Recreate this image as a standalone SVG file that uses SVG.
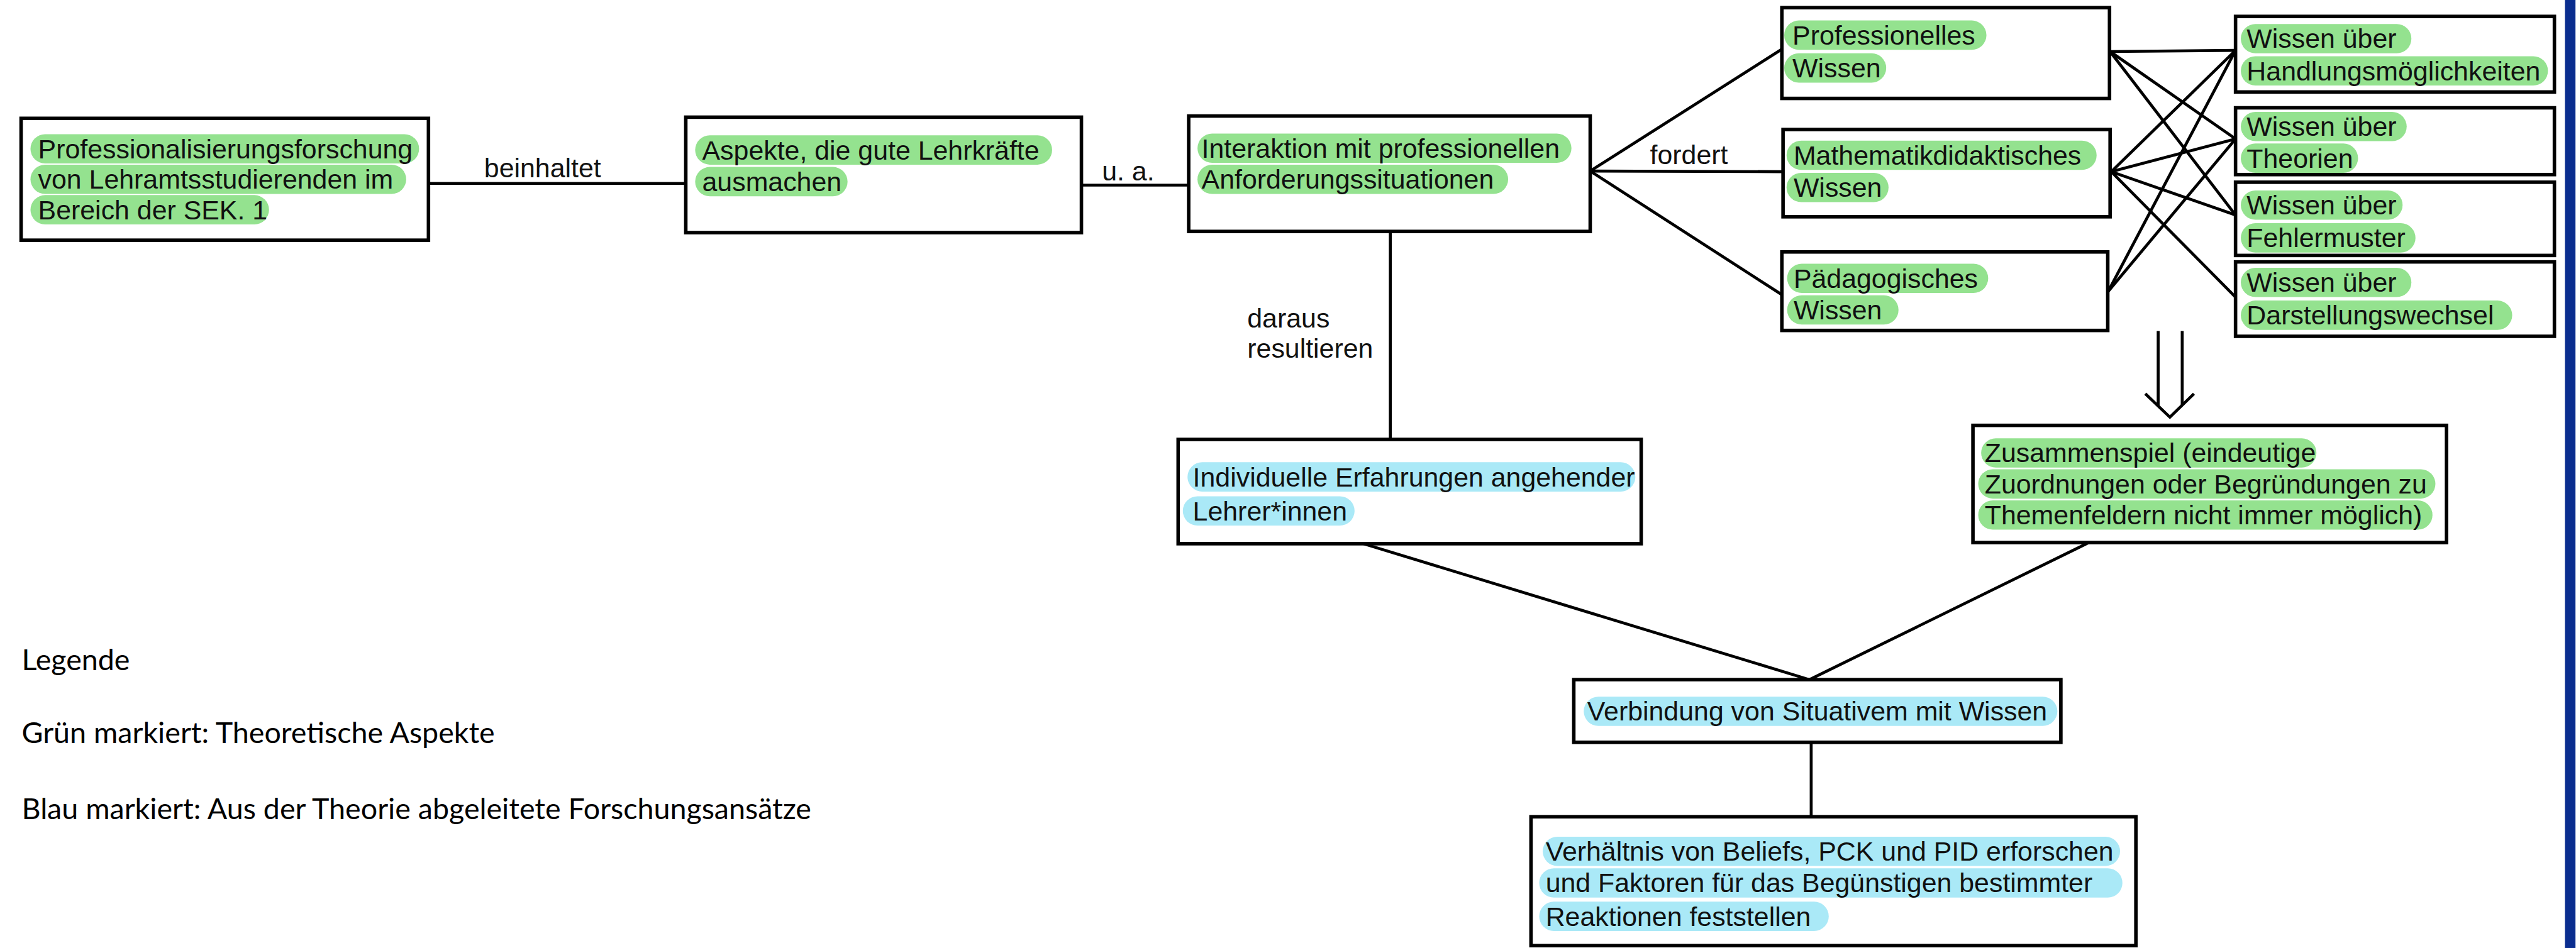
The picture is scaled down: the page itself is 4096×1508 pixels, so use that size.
<svg xmlns="http://www.w3.org/2000/svg" width="4096" height="1508" viewBox="0 0 4096 1508">
<style>
.box{fill:#fff;stroke:#000;stroke-width:6}
.t{font-family:"Liberation Sans",Arial,sans-serif;font-size:46px;fill:#111}
.g{fill:#94e28f}
.b{fill:#aae9f7}
.c{stroke:#000;stroke-width:5;fill:none}
.leg{font-family:Lato,"Liberation Sans",sans-serif;font-size:50px;fill:#000}
</style>
<rect width="4096" height="1508" fill="#fff"/>
<g transform="scale(0.932)">
<rect x="4376" y="0" width="18" height="1618" fill="#0a2d8f"/>
<g id="connectors">
<line class="c" x1="731" y1="313" x2="1170" y2="313"/>
<line class="c" x1="1845" y1="316" x2="2028" y2="316"/>
<line class="c" x1="2713" y1="292" x2="3040" y2="84"/>
<line class="c" x1="2713" y1="292" x2="3042" y2="293"/>
<line class="c" x1="2713" y1="292" x2="3040" y2="503"/>
<line class="c" x1="3600" y1="88" x2="3814" y2="86"/>
<line class="c" x1="3600" y1="88" x2="3814" y2="237"/>
<line class="c" x1="3600" y1="88" x2="3814" y2="367"/>
<line class="c" x1="3602" y1="293" x2="3814" y2="86"/>
<line class="c" x1="3602" y1="293" x2="3814" y2="237"/>
<line class="c" x1="3602" y1="293" x2="3814" y2="367"/>
<line class="c" x1="3602" y1="293" x2="3814" y2="507"/>
<line class="c" x1="3597" y1="497" x2="3814" y2="86"/>
<line class="c" x1="3597" y1="497" x2="3814" y2="237"/>
<line class="c" x1="2372" y1="395" x2="2372" y2="750"/>
<line class="c" x1="3682" y1="565" x2="3682" y2="693"/>
<line class="c" x1="3723" y1="565" x2="3723" y2="692"/>
<polyline class="c" points="3660,672 3702,712 3743,672"/>
<line class="c" x1="2326" y1="928" x2="3087" y2="1160"/>
<line class="c" x1="3564" y1="926" x2="3087" y2="1160"/>
<line class="c" x1="3090" y1="1267" x2="3090" y2="1394"/>
<text class="t" x="826" y="303">beinhaltet</text>
<text class="t" x="1880" y="308">u. a.</text>
<text class="t" x="2815" y="280">fordert</text>
<text class="t" x="2128" y="559">daraus</text>
<text class="t" x="2128" y="610">resultieren</text>
</g>
<g id="n1">
<rect class="box" x="36" y="202" width="695" height="208"/>
<rect class="g" x="52" y="229" width="663" height="50" rx="25"/>
<rect class="g" x="52" y="281" width="641" height="50" rx="25"/>
<rect class="g" x="52" y="333" width="407" height="50" rx="25"/>
<text class="t" x="65" y="270">Professionalisierungsforschung</text>
<text class="t" x="65" y="322">von Lehramtsstudierenden im</text>
<text class="t" x="65" y="374">Bereich der SEK. 1</text>
</g>
<g id="n2">
<rect class="box" x="1170" y="200" width="675" height="197"/>
<rect class="g" x="1186" y="231" width="609" height="50" rx="25"/>
<rect class="g" x="1186" y="285" width="260" height="50" rx="25"/>
<text class="t" x="1198" y="272">Aspekte, die gute Lehrkräfte</text>
<text class="t" x="1198" y="326">ausmachen</text>
</g>
<g id="n3">
<rect class="box" x="2028" y="198" width="685" height="197"/>
<rect class="g" x="2043" y="228" width="638" height="50" rx="25"/>
<rect class="g" x="2043" y="281" width="530" height="50" rx="25"/>
<text class="t" x="2050" y="269">Interaktion mit professionellen</text>
<text class="t" x="2050" y="322">Anforderungssituationen</text>
</g>
<g id="n4">
<rect class="box" x="3040" y="13" width="559" height="155"/>
<rect class="g" x="3044" y="35" width="345" height="50" rx="25"/>
<rect class="g" x="3044" y="91" width="174" height="50" rx="25"/>
<text class="t" x="3058" y="76">Professionelles</text>
<text class="t" x="3058" y="132">Wissen</text>
</g>
<g id="n5">
<rect class="box" x="3042" y="221" width="558" height="149"/>
<rect class="g" x="3048" y="240" width="529" height="50" rx="25"/>
<rect class="g" x="3048" y="295" width="174" height="50" rx="25"/>
<text class="t" x="3060" y="281">Mathematikdidaktisches</text>
<text class="t" x="3060" y="336">Wissen</text>
</g>
<g id="n6">
<rect class="box" x="3040" y="430" width="556" height="134"/>
<rect class="g" x="3049" y="450" width="343" height="50" rx="25"/>
<rect class="g" x="3049" y="504" width="190" height="50" rx="25"/>
<text class="t" x="3060" y="491">Pädagogisches</text>
<text class="t" x="3060" y="545">Wissen</text>
</g>
<g id="n7">
<rect class="box" x="3814" y="28" width="544" height="129"/>
<rect class="g" x="3823" y="41" width="291" height="50" rx="25"/>
<rect class="g" x="3823" y="96" width="524" height="50" rx="25"/>
<text class="t" x="3833" y="82">Wissen über</text>
<text class="t" x="3833" y="137">Handlungsmöglichkeiten</text>
</g>
<g id="n8">
<rect class="box" x="3814" y="184" width="544" height="114"/>
<rect class="g" x="3823" y="191" width="283" height="50" rx="25"/>
<rect class="g" x="3823" y="245" width="200" height="50" rx="25"/>
<text class="t" x="3833" y="232">Wissen über</text>
<text class="t" x="3833" y="286">Theorien</text>
</g>
<g id="n9">
<rect class="box" x="3814" y="311" width="544" height="125"/>
<rect class="g" x="3823" y="325" width="276" height="50" rx="25"/>
<rect class="g" x="3823" y="381" width="298" height="50" rx="25"/>
<text class="t" x="3833" y="366">Wissen über</text>
<text class="t" x="3833" y="422">Fehlermuster</text>
</g>
<g id="n10">
<rect class="box" x="3814" y="447" width="544" height="127"/>
<rect class="g" x="3823" y="457" width="291" height="50" rx="25"/>
<rect class="g" x="3823" y="513" width="463" height="50" rx="25"/>
<text class="t" x="3833" y="498">Wissen über</text>
<text class="t" x="3833" y="554">Darstellungswechsel</text>
</g>
<g id="n11">
<rect class="box" x="3366" y="726" width="808" height="200"/>
<rect class="g" x="3380" y="748" width="572" height="50" rx="25"/>
<rect class="g" x="3375" y="801" width="780" height="50" rx="25"/>
<rect class="g" x="3375" y="854" width="775" height="50" rx="25"/>
<text class="t" x="3386" y="789">Zusammenspiel (eindeutige</text>
<text class="t" x="3386" y="842">Zuordnungen oder Begründungen zu</text>
<text class="t" x="3386" y="895">Themenfeldern nicht immer möglich)</text>
</g>
<g id="n12">
<rect class="box" x="2010" y="750" width="790" height="178"/>
<rect class="b" x="2026" y="789" width="764" height="50" rx="25"/>
<rect class="b" x="2018" y="847" width="293" height="50" rx="25"/>
<text class="t" x="2035" y="830">Individuelle Erfahrungen angehender</text>
<text class="t" x="2035" y="888">Lehrer*innen</text>
</g>
<g id="n13">
<rect class="box" x="2685" y="1160" width="831" height="107"/>
<rect class="b" x="2702" y="1189" width="808" height="50" rx="25"/>
<text class="t" x="2708" y="1230">Verbindung von Situativem mit Wissen</text>
</g>
<g id="n14">
<rect class="box" x="2612" y="1394" width="1032" height="220"/>
<rect class="b" x="2632" y="1428" width="985" height="50" rx="25"/>
<rect class="b" x="2626" y="1482" width="995" height="50" rx="25"/>
<rect class="b" x="2626" y="1539" width="494" height="50" rx="25"/>
<text class="t" x="2637" y="1469">Verhältnis von Beliefs, PCK und PID erforschen</text>
<text class="t" x="2637" y="1523">und Faktoren für das Begünstigen bestimmter</text>
<text class="t" x="2637" y="1580">Reaktionen feststellen</text>
</g>
<g id="legend">
<text class="leg" x="37" y="1144">Legende</text>
<text class="leg" x="37" y="1268">Grün markiert: Theoretische Aspekte</text>
<text class="leg" x="37" y="1398">Blau markiert: Aus der Theorie abgeleitete Forschungsansätze</text>
</g>
</g>
</svg>
